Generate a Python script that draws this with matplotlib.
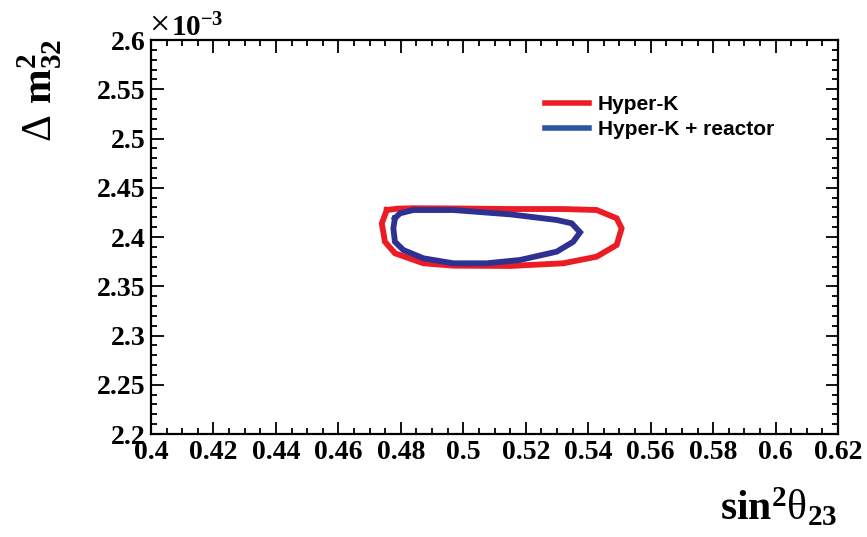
import matplotlib
matplotlib.use("Agg")
import matplotlib.pyplot as plt
from matplotlib.ticker import MultipleLocator, FixedLocator, FixedFormatter
from matplotlib.lines import Line2D

# Contour of Hyper-K alone (sin^2 theta23, dm^2_32 in units of 1e-3 eV^2)
hk_s2t = [0.4755, 0.4739, 0.4749, 0.4781, 0.4872, 0.4968, 0.5150, 0.5320,
          0.5427, 0.5491, 0.5507, 0.5491, 0.5427, 0.5320, 0.5150, 0.4968,
          0.4840, 0.4790, 0.4755]
hk_dm2 = [2.4274, 2.4139, 2.3952, 2.3835, 2.3733, 2.3709, 2.3706, 2.3733,
          2.3800, 2.3919, 2.4088, 2.4190, 2.4274, 2.4284, 2.4284, 2.4290,
          2.4292, 2.4288, 2.4274]

# Contour of Hyper-K combined with reactor constraint
hkr_s2t = [0.4781, 0.4776, 0.4781, 0.4808, 0.4872, 0.4968, 0.5075, 0.5182,
           0.5299, 0.5352, 0.5374, 0.5347, 0.5299, 0.5150, 0.4968, 0.4840,
           0.4797, 0.4781]
hkr_dm2 = [2.4190, 2.4088, 2.3952, 2.3868, 2.3784, 2.3733, 2.3733, 2.3767,
           2.3851, 2.3952, 2.4048, 2.4139, 2.4173, 2.4230, 2.4274, 2.4274,
           2.4240, 2.4190]

x_ticks = [0.40, 0.42, 0.44, 0.46, 0.48, 0.50, 0.52, 0.54, 0.56, 0.58, 0.60, 0.62]
x_tick_labels = ["0.4", "0.42", "0.44", "0.46", "0.48", "0.5", "0.52", "0.54",
                 "0.56", "0.58", "0.6", "0.62"]
y_ticks = [2.20, 2.25, 2.30, 2.35, 2.40, 2.45, 2.50, 2.55, 2.60]
y_tick_labels = ["2.2", "2.25", "2.3", "2.35", "2.4", "2.45", "2.5", "2.55", "2.6"]
legend_labels = ["Hyper-K", "Hyper-K + reactor"]

RED = "#ec1c24"
BLUE = "#2e3192"
LEG_BLUE = "#2b55a5"

# Bold Times-like maths; \mathsf is used for the regular-weight Greek symbols
plt.rcParams["mathtext.fontset"] = "custom"
plt.rcParams["mathtext.rm"] = "Liberation Serif:bold"
plt.rcParams["mathtext.it"] = "Liberation Serif:bold"
plt.rcParams["mathtext.bf"] = "Liberation Serif:bold"
plt.rcParams["mathtext.sf"] = "Liberation Serif"

fig = plt.figure(figsize=(8.67, 5.37), dpi=100)
ax = fig.add_axes([0.1742, 0.1918, 0.7924, 0.7337])

ax.plot(hk_s2t, hk_dm2, color=RED, lw=4.2, solid_joinstyle="miter", zorder=2)
ax.plot(hkr_s2t, hkr_dm2, color=BLUE, lw=4.2, solid_joinstyle="miter", zorder=3)

ax.set_xlim(0.40, 0.62)
ax.set_ylim(2.20, 2.60)

ax.xaxis.set_major_locator(FixedLocator(x_ticks))
ax.xaxis.set_major_formatter(FixedFormatter(x_tick_labels))
ax.xaxis.set_minor_locator(MultipleLocator(0.005))
ax.yaxis.set_major_locator(FixedLocator(y_ticks))
ax.yaxis.set_major_formatter(FixedFormatter(y_tick_labels))
ax.yaxis.set_minor_locator(MultipleLocator(0.01))

ax.tick_params(which="both", direction="in", top=True, right=True,
               width=1.3, color="black")
ax.tick_params(which="major", length=9)
ax.tick_params(which="minor", length=4.5)
ax.tick_params(axis="x", which="major", pad=4)
ax.tick_params(axis="y", which="major", pad=4)
for lab in ax.get_xticklabels() + ax.get_yticklabels():
    lab.set_fontfamily("Liberation Serif")
    lab.set_fontweight("bold")
    lab.set_fontsize(20)

for sp in ax.spines.values():
    sp.set_linewidth(1.6)

# Axis titles, ROOT-style placement (right/top aligned)
fig.text(0.966, 0.032, r"$\mathrm{sin^{2}}\mathsf{\theta}_{\mathrm{23}}$",
         ha="right", va="baseline", fontsize=30)
fig.text(0.046, 0.927, r"$\mathsf{\Delta}\ \mathrm{m^{2}_{32}}$", ha="center",
         va="top", rotation=90, fontsize=30)

# Axis multiplier
fig.text(0.172, 0.936, "\u00d7", ha="left", va="baseline", fontsize=26,
         family="Liberation Serif")
fig.text(0.197, 0.933, r"$\mathrm{10^{-3}}$", ha="left", va="baseline",
         fontsize=21)

handles = [Line2D([], [], color=RED, lw=4),
           Line2D([], [], color=LEG_BLUE, lw=4)]
leg = ax.legend(handles, legend_labels, loc="upper left",
                bbox_to_anchor=(0.562, 0.882), frameon=False,
                prop={"family": "Liberation Sans", "weight": "bold", "size": 15},
                handlelength=2.1, handletextpad=0.4, labelspacing=0.3,
                borderaxespad=0)

fig.savefig("out.png", dpi=100)
